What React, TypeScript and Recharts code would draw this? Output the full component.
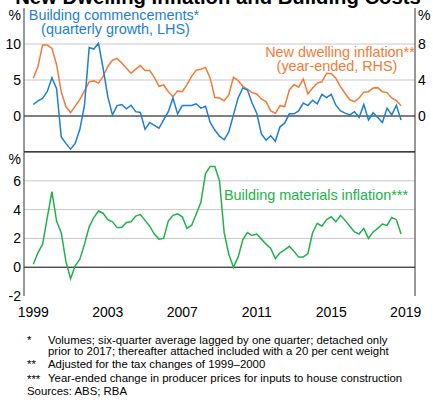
import React from 'react';
import { LineChart, Line, XAxis, YAxis, CartesianGrid, ReferenceLine } from 'recharts';

// quarterly observations, first one plotted mid-1999
const quarters = Array.from({ length: 80 }, (_, i) => 1999.5 + i * 0.25);

// building commencements, quarterly growth (LHS, %)
const commencements = [
  1.6, 2.1, 2.45, 3.4, 5.3, 3.8, -2.9, -3.8, -4.6, -3.8,
  -1.85, 1.5, 9.5, 9.3, 10.1, 6.6, 2.7, 0.15, 1.45, 1.6,
  1.0, 1.5, 0.6, 0.5, -1.85, -0.9, -1.3, -1.7, -0.55, 0.6,
  2.5, 0.3, 1.45, 1.45, 1.45, 1.7, 1.1, 1.35, -0.9, -1.95,
  -2.8, -3.3, -2.2, 0.15, 2.5, 3.9, 3.6, 1.8, 0.4, -2.5,
  -3.35, -2.75, -3.5, -1.5, -1.0, 0.3, 0.3, 0.7, 1.8, 1.45,
  2.2, 1.7, 3.0, 2.55, 3.0, 1.5, 0.7, 0.4, 0.15, 0.6,
  -0.2, 1.6, -0.55, 0.45, -0.2, -0.9, 1.1, 0.15, 1.5, -0.55,
];

// new dwelling inflation, year-ended (RHS, %)
const dwellingInflation = [
  4.2, 5.5, 7.9, 7.9, 7.5, 5.7, 2.7, 1.05, 0.37, 1.1,
  1.85, 2.8, 3.8, 3.9, 3.65, 4.4, 5.5, 6.2, 6.4, 5.9,
  5.3, 4.75, 5.2, 5.6, 5.05, 5.05, 4.3, 3.3, 3.45, 2.7,
  2.15, 2.8, 2.7, 3.45, 4.4, 5.1, 5.2, 5.4, 4.2, 2.05,
  2.0, 1.7, 2.35, 4.3, 3.95, 3.3, 3.0, 2.6, 2.45, 1.9,
  1.6, 0.55, 0.3, 1.15, 1.05, 2.9, 3.5, 3.2, 4.1, 2.45,
  3.1, 3.65, 3.8, 4.75, 4.7, 4.2, 3.25, 2.5, 1.8, 1.6,
  2.0, 2.65, 2.7, 3.1, 3.15, 2.7, 2.6, 2.0, 1.7, 1.15,
];

// building materials inflation, year-ended (%)
const materialsInflation = [
  0.2, 1.0, 1.6, 3.45, 5.25, 3.2, 2.4, 0.4, -0.8, 0.1,
  0.55, 1.6, 2.8, 3.45, 3.9, 3.75, 3.3, 3.15, 2.75, 2.75,
  3.1, 3.15, 3.55, 3.65, 3.25, 2.85, 2.3, 1.95, 2.0, 3.2,
  3.6, 3.7, 3.5, 2.7, 2.9, 3.7, 4.5, 6.5, 7.0, 7.0,
  6.0, 2.4, 0.9, 0.0, 0.7, 1.9, 2.4, 2.2, 2.3, 1.95,
  1.6, 1.3, 0.6, 1.0, 1.2, 1.45, 1.1, 0.7, 0.7, 0.95,
  2.4, 3.05, 2.85, 3.3, 3.5, 3.15, 3.6, 3.25, 2.85, 2.45,
  2.3, 2.7, 2.0, 2.45, 2.7, 3.0, 2.9, 3.45, 3.3, 2.3,
];

const yearTicks = [
  1999, 2000, 2001, 2002, 2003, 2004, 2005, 2006, 2007, 2008, 2009,
  2010, 2011, 2012, 2013, 2014, 2015, 2016, 2017, 2018, 2019, 2020,
];
const yearLabelTicks = [1999.5, 2003.5, 2007.5, 2011.5, 2015.5, 2019.5];

const topLeftTicks = [-5, 0, 5, 10, 15];
const topRightTicks = [-4, 0, 4, 8, 12];
const bottomTicks = [-2, 0, 2, 4, 6, 8];

const data = quarters.map((x, i) => ({
  x,
  commencements: commencements[i],
  dwelling: dwellingInflation[i],
  materials: materialsInflation[i],
}));

const FONT = "'Liberation Sans', Arial, Helvetica, sans-serif";
const BLUE = '#1c7ed6';
const ORANGE = '#f47a35';
const GREEN = '#20b24a';
const GRID = '#c8c8c8';
const FRAME = '#333333';

// y tick: top value becomes "%", values in `hidden` are not labelled
const makeYTick = (top: number, hidden: number[]) => (props: any) => {
  const { x, y, payload, textAnchor } = props;
  const v = payload.value;
  if (hidden.includes(v)) return <g />;
  return (
    <text x={x} y={y} dy={v === top ? 12 : 5} textAnchor={textAnchor} fontSize={14} fontFamily={FONT} fill="#000">
      {v === top ? '%' : v}
    </text>
  );
};

const YearMark = (props: any) => {
  const { x, y } = props;
  return <line x1={x} x2={x} y1={y} y2={y - 5} stroke={FRAME} strokeWidth={1} />;
};

const YearLabel = (props: any) => {
  const { x, y, payload } = props;
  return (
    <text x={x} y={y} dy={21} textAnchor="middle" fontSize={14} fontFamily={FONT} fill="#000">
      {Math.floor(payload.value)}
    </text>
  );
};

// absolutely placed text; `base` is the baseline y
const Txt = ({ base, left, color, size = 14.4, center = false, bold = false, children }: any) => {
  const lh = Math.round(size * 0.85);
  const top = base - ((lh - 1.117 * size) / 2 + 0.905 * size);
  return (
    <div
      style={{
        position: 'absolute',
        top,
        left,
        transform: center ? 'translateX(-50%)' : undefined,
        fontSize: size,
        lineHeight: `${lh}px`,
        color,
        fontWeight: bold ? 'bold' : 'normal',
        whiteSpace: 'nowrap',
      }}
    >
      {children}
    </div>
  );
};

export default function App() {
  return (
    <div
      style={{
        position: 'absolute',
        left: 0,
        top: 0,
        width: 433,
        height: 405,
        overflow: 'hidden',
        background: '#fff',
        fontFamily: FONT,
      }}
    >
      <Txt base={5} left={218} size={20.3} bold center color="#000">
        New Dwelling Inflation and Building Costs
      </Txt>

      <div style={{ position: 'absolute', left: 0, top: 0 }}>
        <LineChart width={433} height={152} data={data} margin={{ top: 8, right: 0, bottom: 0, left: 0 }}>
          <XAxis dataKey="x" type="number" domain={[1999, 2020]} hide />
          <YAxis
            yAxisId="l"
            domain={[-5, 15]}
            ticks={topLeftTicks}
            width={24}
            tickSize={0}
            tickMargin={3}
            tickLine={false}
            axisLine={{ stroke: FRAME }}
            tick={makeYTick(15, [-5])}
            interval={0}
          />
          <YAxis
            yAxisId="r"
            orientation="right"
            domain={[-4, 12]}
            ticks={topRightTicks}
            width={18}
            tickSize={0}
            tickMargin={3}
            tickLine={false}
            axisLine={{ stroke: FRAME }}
            tick={makeYTick(12, [-4])}
            interval={0}
          />
          <CartesianGrid yAxisId="l" vertical={false} horizontalValues={[5, 10]} stroke={GRID} />
          <ReferenceLine yAxisId="l" y={0} stroke="#000" />
          <ReferenceLine yAxisId="l" y={-5} stroke="#000" />
          <Line yAxisId="r" dataKey="dwelling" type="linear" stroke={ORANGE} strokeWidth={1.5} dot={false} isAnimationActive={false} />
          <Line yAxisId="l" dataKey="commencements" type="linear" stroke={BLUE} strokeWidth={1.5} dot={false} isAnimationActive={false} />
        </LineChart>
      </div>

      <div style={{ position: 'absolute', left: 0, top: 144 }}>
        <LineChart width={433} height={180} data={data} margin={{ top: 8, right: 0, bottom: 0, left: 0 }}>
          <XAxis
            xAxisId="marks"
            dataKey="x"
            type="number"
            domain={[1999, 2020]}
            ticks={yearTicks}
            interval={0}
            height={0}
            tickSize={0}
            tickMargin={0}
            tickLine={false}
            axisLine={{ stroke: FRAME }}
            tick={<YearMark />}
          />
          <XAxis
            xAxisId="labels"
            dataKey="x"
            type="number"
            domain={[1999, 2020]}
            ticks={yearLabelTicks}
            interval={0}
            height={28}
            tickSize={0}
            tickMargin={0}
            tickLine={false}
            axisLine={false}
            tick={<YearLabel />}
          />
          <YAxis
            yAxisId="l"
            domain={[-2, 8]}
            ticks={bottomTicks}
            width={24}
            tickSize={0}
            tickMargin={3}
            tickLine={false}
            axisLine={{ stroke: FRAME }}
            tick={makeYTick(8, [])}
            interval={0}
          />
          <YAxis
            yAxisId="r"
            orientation="right"
            domain={[-2, 8]}
            ticks={bottomTicks}
            width={18}
            tickSize={0}
            tickMargin={3}
            tickLine={false}
            axisLine={{ stroke: FRAME }}
            tick={makeYTick(8, [])}
            interval={0}
          />
          <CartesianGrid xAxisId="marks" yAxisId="l" vertical={false} horizontalValues={[2, 4, 6]} stroke={GRID} />
          <ReferenceLine xAxisId="marks" yAxisId="l" y={0} stroke="#000" />
          <ReferenceLine xAxisId="marks" yAxisId="l" y={8} stroke="#000" />
          <Line xAxisId="marks" yAxisId="l" dataKey="materials" type="linear" stroke={GREEN} strokeWidth={1.5} dot={false} isAnimationActive={false} />
        </LineChart>
      </div>

      <Txt base={20} left={114} center color={BLUE}>Building commencements*</Txt>
      <Txt base={33.5} left={115.5} center color={BLUE}>(quarterly growth, LHS)</Txt>
      <Txt base={56.5} left={340} center color={ORANGE}>New dwelling inflation**</Txt>
      <Txt base={70.5} left={337} center color={ORANGE}>(year-ended, RHS)</Txt>
      <Txt base={199.5} left={316} center color={GREEN}>Building materials inflation***</Txt>

      <Txt base={344} left={27} size={11.4} color="#000">*</Txt>
      <Txt base={343.5} left={48} size={11.4} color="#000">Volumes; six-quarter average lagged by one quarter; detached only</Txt>
      <Txt base={355} left={48} size={11.4} color="#000">prior to 2017; thereafter attached included with a 20 per cent weight</Txt>
      <Txt base={368} left={27} size={11.4} color="#000">**</Txt>
      <Txt base={367.5} left={48} size={11.4} color="#000">Adjusted for the tax changes of 1999–2000</Txt>
      <Txt base={382.5} left={27} size={11.4} color="#000">***</Txt>
      <Txt base={382} left={48} size={11.4} color="#000">Year-ended change in producer prices for inputs to house construction</Txt>
      <Txt base={395} left={27} size={11.4} color="#000">Sources: ABS; RBA</Txt>
    </div>
  );
}
